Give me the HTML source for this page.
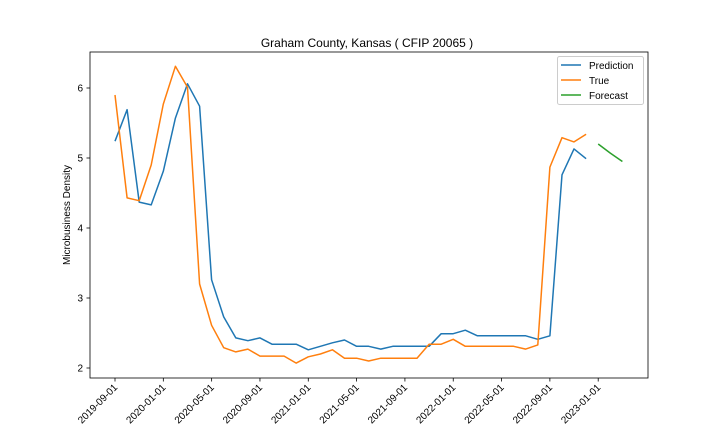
<!DOCTYPE html>
<html><head><meta charset="utf-8"><style>
body{margin:0;background:#fff;}
svg{display:block;font-family:"Liberation Sans","DejaVu Sans",sans-serif;}
</style></head><body>
<svg id="chart" width="720" height="432" viewBox="0 0 720 432">
<rect x="0" y="0" width="720" height="432" fill="#fff"/>
<text x="367" y="47" text-anchor="middle" font-size="12" fill="#000">Graham County, Kansas ( CFIP 20065 )</text>
<text transform="translate(70,215) rotate(-90)" text-anchor="middle" font-size="10" fill="#000">Microbusiness Density</text>
<g id="grid"></g>
<g id="series"></g>
<rect x="90" y="52" width="558" height="326" fill="none" stroke="#000" stroke-width="0.8"/>
<g>
<rect x="557.5" y="56.5" width="86" height="48" rx="2" fill="#fff" stroke="#ccc"/>
<line x1="561" y1="65" x2="581" y2="65" stroke="#1f77b4" stroke-width="1.5"/>
<text x="589" y="69" font-size="10">Prediction</text>
<line x1="561" y1="80" x2="581" y2="80" stroke="#ff7f0e" stroke-width="1.5"/>
<text x="589" y="84" font-size="10">True</text>
<line x1="561" y1="95" x2="581" y2="95" stroke="#2ca02c" stroke-width="1.5"/>
<text x="589" y="99" font-size="10">Forecast</text>
</g>
</svg>
<script>
const prediction = [5.24,5.69,4.37,4.33,4.81,5.57,6.06,5.74,3.26,2.73,2.43,2.39,2.43,2.34,2.34,2.34,2.26,2.31,2.36,2.40,2.31,2.31,2.27,2.31,2.31,2.31,2.31,2.49,2.49,2.54,2.46,2.46,2.46,2.46,2.46,2.41,2.46,4.76,5.13,4.99];
const trueVals = [5.90,4.43,4.39,4.90,5.77,6.31,6.01,3.20,2.61,2.29,2.23,2.27,2.17,2.17,2.17,2.07,2.16,2.20,2.26,2.14,2.14,2.10,2.14,2.14,2.14,2.14,2.34,2.34,2.41,2.31,2.31,2.31,2.31,2.31,2.27,2.33,4.87,5.29,5.23,5.34];
const forecast = [5.20,5.07,4.95];
const forecastStart = 40;
const yTicks = [2,3,4,5,6];
const xTickLabels = ["2019-09-01","2020-01-01","2020-05-01","2020-09-01","2021-01-01","2021-05-01","2021-09-01","2022-01-01","2022-05-01","2022-09-01","2023-01-01"];
const xTickIdx = [0,4,8,12,16,20,24,28,32,36,40];

const NS="http://www.w3.org/2000/svg";
const xS = i => 115 + i*12.08;
const yS = v => 368 - (v-2)*70;
const grid=document.getElementById('grid'), ser=document.getElementById('series');
function mk(tag,attrs,parent){const e=document.createElementNS(NS,tag);for(const k in attrs)e.setAttribute(k,attrs[k]);parent.appendChild(e);return e;}
yTicks.forEach(v=>{
  const y=yS(v);
  const t=mk('line',{x1:86.5,x2:90,y1:y,y2:y,stroke:'#000','stroke-width':0.8},grid);
  
  
  const l=mk('text',{x:83,y:y+3.5,'text-anchor':'end','font-size':10},grid);
  l.textContent=v;
  
  
});
xTickIdx.forEach((i,k)=>{
  const x=xS(i);
  const t=mk('line',{x1:x,x2:x,y1:378,y2:381.5,stroke:'#000','stroke-width':0.8},grid);
  
  
  const l=mk('text',{x:x+3,y:388,'text-anchor':'end','font-size':10,transform:`rotate(-45 ${x+3} 388)`},grid);
  l.textContent=xTickLabels[k];
  
  
});
function line(vals,start,color,name){
  const pts=vals.map((v,i)=>xS(start+i).toFixed(1)+','+yS(v).toFixed(1)).join(' ');
  const p=mk('polyline',{points:pts,fill:'none',stroke:color,'stroke-width':1.5,'stroke-linejoin':'round'},ser);
  
  
}
line(prediction,0,'#1f77b4','prediction-line');
line(trueVals,0,'#ff7f0e','true-line');
line(forecast,forecastStart,'#2ca02c','forecast-line');
</script>
</body></html>
